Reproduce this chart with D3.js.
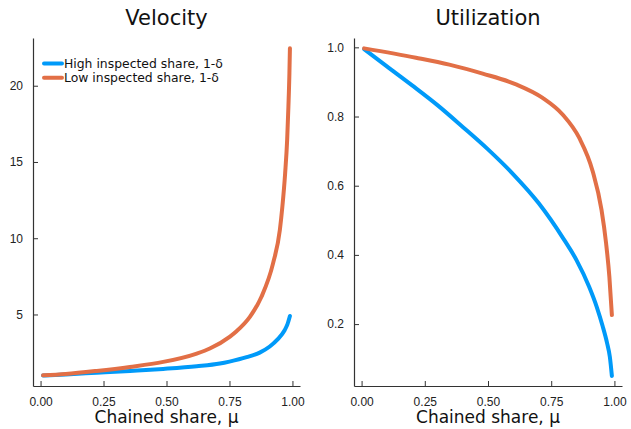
<!DOCTYPE html>
<html>
<head>
<meta charset="utf-8">
<script src="https://cdn.jsdelivr.net/npm/d3@7"></script>
<style>
  body { margin: 0; background: #fff; }
  svg { font-family: "DejaVu Sans", sans-serif; }
</style>
</head>
<body>
<svg width="631" height="429"></svg>
<script>
// readings from the picture
const seriesNames = ["High inspected share, 1-δ", "Low inspected share, 1-δ"];
const colors = ["#009af9", "#e26f46"];

const velHighMu = [0.01, 0.1, 0.223, 0.355, 0.487, 0.62, 0.712, 0.75, 0.818, 0.87, 0.91, 0.94, 0.969, 0.98, 0.99];
const velHigh = [1.0, 1.07, 1.18, 1.3, 1.43, 1.6, 1.78, 1.91, 2.2, 2.5, 2.9, 3.35, 3.97, 4.35, 4.9];
const velLowMu = [0.01, 0.1, 0.223, 0.355, 0.487, 0.62, 0.672, 0.752, 0.778, 0.831, 0.877, 0.923, 0.95, 0.96, 0.971, 0.979, 0.984, 0.988, 0.99];
const velLow = [1.01, 1.1, 1.3, 1.56, 1.89, 2.44, 2.77, 3.55, 3.9, 4.84, 6.16, 8.35, 10.54, 12.07, 14.26, 16.45, 18.64, 20.83, 22.45];

const utilHighMu = [0.01, 0.1, 0.2, 0.3, 0.4, 0.5, 0.6, 0.7, 0.8, 0.85, 0.9, 0.93, 0.953, 0.971, 0.982, 0.99];
const utilHigh = [0.995, 0.945, 0.89, 0.833, 0.77, 0.705, 0.633, 0.55, 0.445, 0.385, 0.308, 0.25, 0.195, 0.145, 0.105, 0.05];
const utilLowMu = [0.01, 0.215, 0.347, 0.479, 0.611, 0.716, 0.795, 0.861, 0.914, 0.949, 0.967, 0.98, 0.99];
const utilLow = [0.997, 0.97, 0.95, 0.924, 0.893, 0.854, 0.806, 0.738, 0.642, 0.53, 0.434, 0.337, 0.226];

const xTicks = [0, 0.25, 0.5, 0.75, 1.0];
const velTicks = [5, 10, 15, 20];
const utilTicks = [0.2, 0.4, 0.6, 0.8, 1.0];

const svg = d3.select("svg");
const axisColor = "#333";

const zip = (xs, ys) => xs.map((x, i) => ({ x: x, y: ys[i] }));

const panels = [
  {
    title: "Velocity", left: 33, right: 300, top: 38, bottom: 386,
    yDomain: [0.31, 23.13], yTicks: velTicks, yFmt: d3.format("d"),
    series: [zip(velHighMu, velHigh), zip(velLowMu, velLow)], legend: true
  },
  {
    title: "Utilization", left: 354, right: 622, top: 38, bottom: 386,
    yDomain: [0.021, 1.027], yTicks: utilTicks, yFmt: d3.format(".1f"),
    series: [zip(utilHighMu, utilHigh), zip(utilLowMu, utilLow)], legend: false
  }
];

panels.forEach((p) => {
  const x = d3.scaleLinear().domain([-0.03, 1.03]).range([p.left, p.right]);
  const y = d3.scaleLinear().domain(p.yDomain).range([p.bottom, p.top]);
  const g = svg.append("g");

  const xAxis = d3.axisBottom(x).tickValues(xTicks).tickFormat(d3.format(".2f"))
    .tickSizeInner(-5).tickSizeOuter(0).tickPadding(11);
  const yAxis = d3.axisLeft(y).tickValues(p.yTicks).tickFormat(p.yFmt)
    .tickSizeInner(-5).tickSizeOuter(0).tickPadding(10);

  const gx = g.append("g").attr("transform", "translate(0," + p.bottom + ")").call(xAxis);
  const gy = g.append("g").attr("transform", "translate(" + p.left + ",0)").call(yAxis);
  [gx, gy].forEach((a) => {
    a.select(".domain").attr("stroke", axisColor).attr("stroke-width", 1.2);
    a.selectAll(".tick line").attr("stroke", axisColor);
    a.selectAll(".tick text").attr("fill", "#222").style("font-size", "12px");
  });

  const line = d3.line().x((d) => x(d.x)).y((d) => y(d.y)).curve(d3.curveMonotoneX);
  p.series.forEach((s, i) => {
    g.append("path").datum(s)
      .attr("d", line)
      .attr("fill", "none")
      .attr("stroke", colors[i])
      .attr("stroke-width", 4)
      .attr("stroke-linecap", "round")
      .attr("stroke-linejoin", "round");
  });

  g.append("text")
    .attr("x", (p.left + p.right) / 2).attr("y", 25)
    .attr("text-anchor", "middle")
    .style("font-size", "21px").attr("fill", "#111")
    .text(p.title);

  g.append("text")
    .attr("x", (p.left + p.right) / 2).attr("y", 423)
    .attr("text-anchor", "middle")
    .style("font-size", "17px").attr("fill", "#111")
    .text("Chained share, μ");

  if (p.legend) {
    seriesNames.forEach((name, i) => {
      const ly = 63.5 + i * 14.3;
      g.append("line")
        .attr("x1", 44).attr("x2", 62).attr("y1", ly).attr("y2", ly)
        .attr("stroke", colors[i]).attr("stroke-width", 4).attr("stroke-linecap", "round");
      g.append("text")
        .attr("x", 64).attr("y", ly + 4.3)
        .style("font-size", "12.4px").attr("fill", "#111")
        .text(name);
    });
  }
});
</script>
</body>
</html>
